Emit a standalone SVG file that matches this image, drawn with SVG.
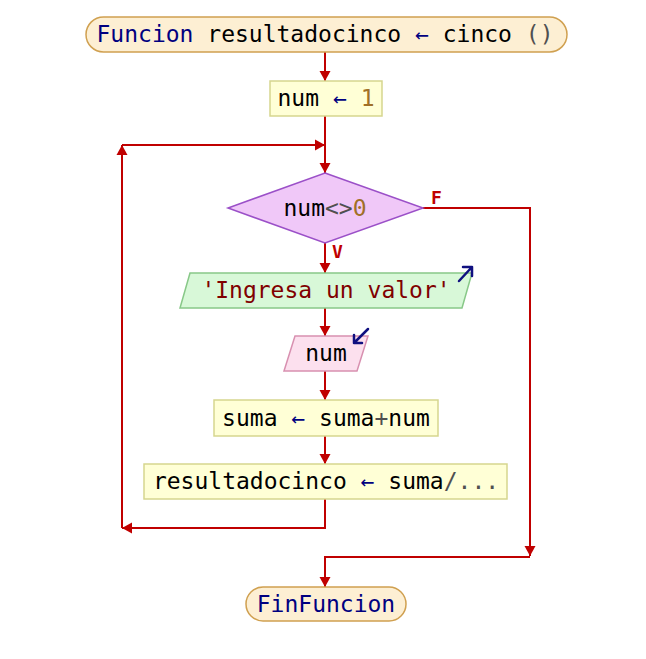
<svg xmlns="http://www.w3.org/2000/svg" width="646" height="659" viewBox="0 0 646 659">
<style>
text{font-family:"DejaVu Sans Mono","Liberation Mono",monospace;font-size:23px;text-anchor:middle;fill:#000}
.kw{fill:#000080}
.op{fill:#000080}
.num{fill:#a07028}
.g{fill:#505050}
.str{fill:#800000}
.term{fill:#fdefd3;stroke:#d0a050;stroke-width:1.5}
.proc{fill:#ffffd6;stroke:#d6d68e;stroke-width:1.5}
.dec{fill:#f0c8f8;stroke:#9b50c8;stroke-width:1.5}
.out{fill:#d8f8d8;stroke:#88c888;stroke-width:1.5}
.in{fill:#fce0ee;stroke:#d890b0;stroke-width:1.5}
.c{fill:none;stroke:#c00000;stroke-width:2}
.lbl{font-family:"DejaVu Sans Mono","Liberation Mono",monospace;font-size:18px;font-weight:bold;fill:#c00000;text-anchor:start}
.ico{fill:none;stroke:#101080;stroke-width:2.5;stroke-linecap:round;stroke-linejoin:round}
</style>
<defs>
<marker id="ah" markerUnits="userSpaceOnUse" markerWidth="12" markerHeight="12" refX="10" refY="6" orient="auto">
<path d="M0,0.5 L10,6 L0,11.5 z" fill="#c00000"/>
</marker>
</defs>
<g id="connectors">
<path class="c" d="M325,52 V81" marker-end="url(#ah)"/>
<path class="c" d="M325,116 V173" marker-end="url(#ah)"/>
<path class="c" d="M325,243 V273" marker-end="url(#ah)"/>
<path class="c" d="M325,308 V336" marker-end="url(#ah)"/>
<path class="c" d="M325,371 V400" marker-end="url(#ah)"/>
<path class="c" d="M325,436 V464" marker-end="url(#ah)"/>
<path class="c" d="M325,499 V528 H122" marker-end="url(#ah)"/>
<path class="c" d="M122,528 V145" marker-end="url(#ah)"/>
<path class="c" d="M122,145 H325" marker-end="url(#ah)"/>
<path class="c" d="M423,208 H530 V556" marker-end="url(#ah)"/>
<path class="c" d="M530,557 H325 V587" marker-end="url(#ah)"/>
<text class="lbl" x="431" y="204">F</text>
<text class="lbl" x="332" y="258">V</text>
</g>
<g id="start">
<rect class="term" x="86" y="17" width="481" height="35" rx="17.5"/>
<text x="325" y="42"><tspan class="kw">Funcion</tspan> resultadocinco <tspan class="op">←</tspan> cinco <tspan class="g">()</tspan></text>
</g>
<g id="assign1">
<rect class="proc" x="270" y="81" width="112" height="35"/>
<text x="326" y="106">num <tspan class="op">←</tspan> <tspan class="num">1</tspan></text>
</g>
<g id="decision">
<polygon class="dec" points="325,173 423,208 325,243 228,208"/>
<text x="325" y="216">num<tspan class="g">&lt;&gt;</tspan><tspan class="num">0</tspan></text>
</g>
<g id="output">
<polygon class="out" points="190,273 472,273 462,308 180,308"/>
<text x="326" y="298" class="str">'Ingresa un valor'</text>
<path class="ico" d="M459,281 L472,267 M463,267 L472,267 L472,276"/>
</g>
<g id="input">
<polygon class="in" points="295,336 368,336 357,371 284,371"/>
<text x="326" y="361">num</text>
<path class="ico" d="M368,329 L354,343 M354,335 L354,343 L362,343"/>
</g>
<g id="assign2">
<rect class="proc" x="214" y="400" width="224" height="36"/>
<text x="326" y="426">suma <tspan class="op">←</tspan> suma<tspan class="g">+</tspan>num</text>
</g>
<g id="assign3">
<rect class="proc" x="144" y="464" width="363" height="35"/>
<text x="326" y="489">resultadocinco <tspan class="op">←</tspan> suma<tspan class="g">/...</tspan></text>
</g>
<g id="end">
<rect class="term" x="246" y="587" width="160" height="34" rx="17"/>
<text x="326" y="612" class="kw">FinFuncion</text>
</g>
</svg>
